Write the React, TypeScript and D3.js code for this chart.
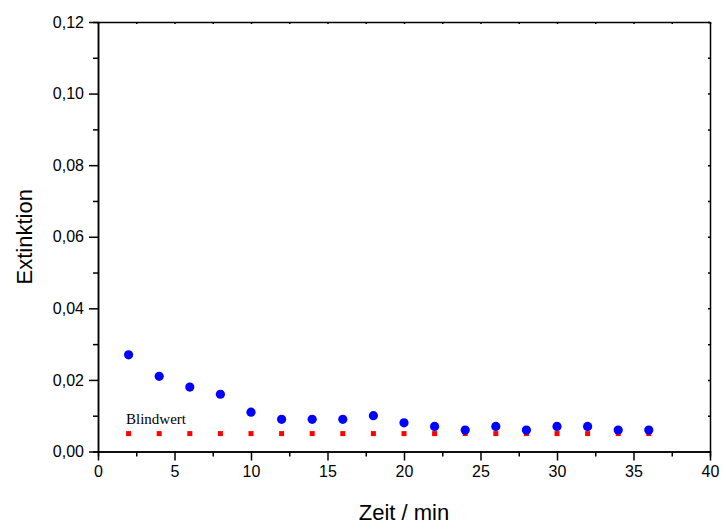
import { useEffect, useRef } from 'react';
import * as d3 from 'd3';

const zeit = [2, 4, 6, 8, 10, 12, 14, 16, 18, 20, 22, 24, 26, 28, 30, 32, 34, 36];
const extinktion = [0.027, 0.021, 0.018, 0.016, 0.011, 0.009, 0.009, 0.009, 0.010, 0.008, 0.007, 0.006, 0.007, 0.006, 0.007, 0.007, 0.006, 0.006];
const blindwert = [0.005, 0.005, 0.005, 0.005, 0.005, 0.005, 0.005, 0.005, 0.005, 0.005, 0.005, 0.005, 0.005, 0.005, 0.005, 0.005, 0.005, 0.005];
const xTicks = [0, 5, 10, 15, 20, 25, 30, 35, 40];
const yTicks = [0, 0.02, 0.04, 0.06, 0.08, 0.1, 0.12];

const App = () => {
  const chartRef = useRef<HTMLDivElement>(null);

  useEffect(() => {
    drawChart();
  }, []);

  const drawChart = () => {
    const width = 723;
    const height = 525;
    const margin = { top: 22, right: 13, bottom: 73.5, left: 98 };
    const font = 'Arial, "Liberation Sans", sans-serif';

    d3.select(chartRef.current).selectAll('*').remove();

    const svg = d3.select(chartRef.current)
      .append('svg')
      .attr('width', width)
      .attr('height', height)
      .style('display', 'block');

    const x = d3.scaleLinear().domain([0, 40]).range([margin.left, width - margin.right]);
    const y = d3.scaleLinear().domain([0, 0.12]).range([height - margin.bottom, margin.top]);

    const fmt = (v: number) => d3.format('.2f')(v).replace('.', ',');

    // bottom axis
    const xAxis = svg.append('g')
      .attr('transform', `translate(0,${y(0)})`)
      .call(d3.axisBottom(x).tickValues(xTicks).tickSize(9).tickSizeOuter(0).tickPadding(5));
    xAxis.append('g')
      .call(d3.axisBottom(x).tickValues(d3.range(2.5, 40, 5)).tickSize(5).tickFormat(() => ''));

    // left axis
    const yAxis = svg.append('g')
      .attr('transform', `translate(${x(0)},0)`)
      .call(d3.axisLeft(y).tickValues(yTicks).tickSize(9).tickSizeOuter(0).tickPadding(5).tickFormat(d => fmt(+d)));
    yAxis.append('g')
      .call(d3.axisLeft(y).tickValues(d3.range(0.01, 0.12, 0.02)).tickSize(5).tickFormat(() => ''));

    // top and right mirror axes
    svg.append('g')
      .attr('transform', `translate(0,${y(0.12)})`)
      .call(d3.axisTop(x).tickValues(d3.range(0, 40.1, 2.5)).tickSize(-2).tickSizeOuter(0).tickFormat(() => ''));
    svg.append('g')
      .attr('transform', `translate(${x(40)},0)`)
      .call(d3.axisRight(y).tickValues(d3.range(0, 0.121, 0.01)).tickSize(-2).tickSizeOuter(0).tickFormat(() => ''));

    svg.selectAll('.domain, .tick line').attr('stroke', '#000').attr('stroke-width', 1.5);
    svg.selectAll('.tick text').attr('font-family', font).attr('font-size', 16).attr('fill', '#000');

    // blank value
    svg.selectAll('.blind')
      .data(zeit)
      .enter().append('rect')
      .attr('class', 'blind')
      .attr('x', (d) => x(d) - 2.5)
      .attr('y', (d, i) => y(blindwert[i]) - 2.5)
      .attr('width', 5)
      .attr('height', 5)
      .attr('fill', '#ff0000');

    svg.selectAll('.point')
      .data(zeit)
      .enter().append('circle')
      .attr('class', 'point')
      .attr('cx', d => x(d))
      .attr('cy', (d, i) => y(extinktion[i]))
      .attr('r', 4.6)
      .attr('fill', '#0000ff');

    svg.append('text')
      .attr('x', 126)
      .attr('y', 424)
      .attr('font-family', '"Liberation Serif", "Times New Roman", serif')
      .attr('font-size', 15)
      .text('Blindwert');

    svg.append('text')
      .attr('x', (x(0) + x(40)) / 2)
      .attr('y', 520)
      .attr('text-anchor', 'middle')
      .attr('font-family', font)
      .attr('font-size', 22)
      .text('Zeit / min');

    svg.append('text')
      .attr('transform', `translate(32,${(y(0) + y(0.12)) / 2}) rotate(-90)`)
      .attr('text-anchor', 'middle')
      .attr('font-family', font)
      .attr('font-size', 22)
      .text('Extinktion');
  };

  return (
    <div
      ref={chartRef}
      style={{ position: 'fixed', left: 0, top: 0, width: 723, height: 525, overflow: 'hidden', background: '#fff' }}
    ></div>
  );
};

export default App;
